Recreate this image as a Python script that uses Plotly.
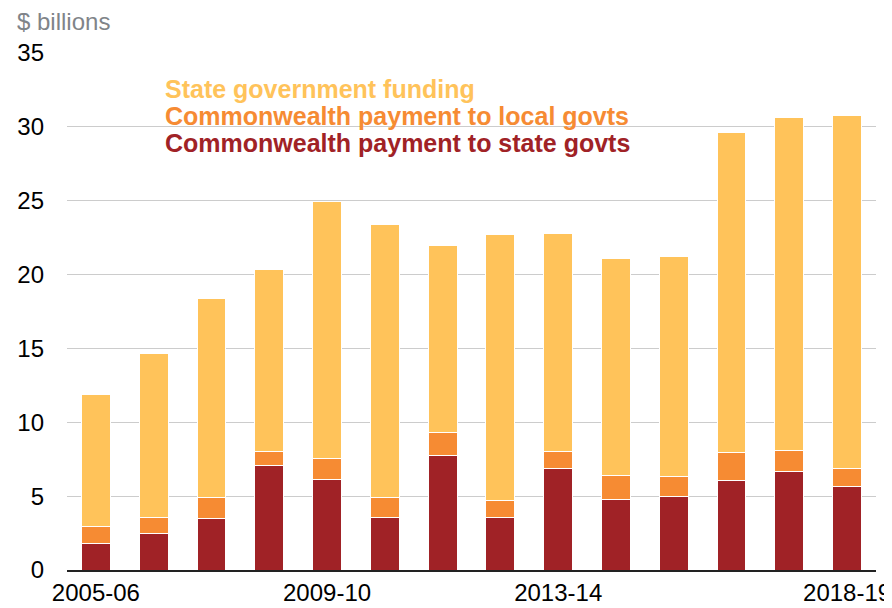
import plotly.graph_objects as go

years = ["2005-06", "2006-07", "2007-08", "2008-09", "2009-10", "2010-11", "2011-12",
         "2012-13", "2013-14", "2014-15", "2015-16", "2016-17", "2017-18", "2018-19"]
cw_state = [1.77, 2.45, 3.47, 7.05, 6.11, 3.55, 7.77, 3.58, 6.85, 4.77, 4.98, 6.04, 6.67, 5.63]
cw_local = [1.15, 1.13, 1.42, 0.97, 1.42, 1.34, 1.56, 1.10, 1.17, 1.63, 1.33, 1.89, 1.44, 1.26]
state_funding = [8.93, 11.10, 13.47, 12.33, 17.44, 18.48, 12.64, 18.01, 14.76, 14.69, 14.89, 21.67, 22.53, 23.86]
tick_years = ["2005-06", "2009-10", "2013-14", "2018-19"]

names = ["Commonwealth payment to state govts", "Commonwealth payment to local govts",
         "State government funding"]
colors = ["#A02226", "#F68B33", "#FFC35A"]
series = [cw_state, cw_local, state_funding]

FONT = "Liberation Sans, Arial, sans-serif"

fig = go.Figure()
for name, col, vals in zip(names, colors, series):
    fig.add_trace(go.Bar(x=years, y=vals, name=name, marker_color=col,
                         marker_line=dict(color="white", width=1)))

# page body has an 8px margin; the figure is drawn offset by it
OFF = 8
W, H = 892 - OFF, 608 - OFF
plot_left, plot_right, plot_top, plot_bottom = 67, 876, 52.5, 570.5  # in screen px
ml = plot_left - OFF
mr = W - (plot_right - OFF)
mt = plot_top - OFF
mb = H - (plot_bottom - OFF)
ph = H - mt - mb
pw = W - ml - mr

def py(px):
    return (plot_bottom - px) / ph

def pxx(px):
    return (px - plot_left) / pw

annotations = []
leg = [("State government funding", "#FFC35A", 89),
       ("Commonwealth payment to local govts", "#F68B33", 116),
       ("Commonwealth payment to state govts", "#A02226", 143)]
for txt, col, ypix in leg:
    annotations.append(dict(text="<b>%s</b>" % txt, x=pxx(162), y=py(ypix), xref="paper", yref="paper",
                            xanchor="left", yanchor="middle", showarrow=False,
                            font=dict(family=FONT, size=25, color=col), borderpad=2))
annotations.append(dict(text="$ billions", x=pxx(15), y=py(21), xref="paper", yref="paper",
                        xanchor="left", yanchor="middle", showarrow=False,
                        font=dict(family=FONT, size=24, color="#7F8489")))

# white backing behind the legend text (hides gridlines there)
shapes = [dict(type="rect", xref="paper", yref="paper", x0=pxx(162), x1=pxx(637),
               y0=py(158), y1=py(75), fillcolor="white", line=dict(width=0), layer="between")]

fig.update_layout(
    barmode="stack",
    width=W, height=H,
    margin=dict(l=ml, r=mr, t=mt, b=mb, autoexpand=False),
    paper_bgcolor="white", plot_bgcolor="white",
    showlegend=False,
    bargap=0.5,
    font=dict(family=FONT, size=24, color="black"),
    annotations=annotations,
    shapes=shapes,
)
fig.update_xaxes(type="category", tickmode="array", tickvals=tick_years, ticktext=tick_years,
                 showline=True, linecolor="#222222", linewidth=1.5, ticks="", showgrid=False,
                 automargin=False,
                 tickfont=dict(family=FONT, size=24, color="black"), range=[-0.5, 13.5])
fig.update_yaxes(range=[0, 35], dtick=5, showgrid=True, gridcolor="#CCCCCC", gridwidth=1,
                 zeroline=False, ticks="", ticklabelstandoff=22, automargin=False,
                 tickfont=dict(family=FONT, size=24, color="black"))

fig.write_html("out.html")
